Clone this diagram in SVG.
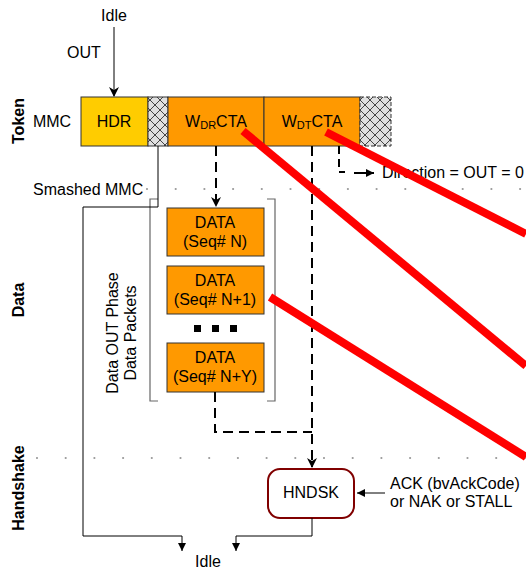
<svg xmlns="http://www.w3.org/2000/svg" width="526" height="572" viewBox="0 0 526 572">
<style>
text{font-family:"Liberation Sans",Arial,sans-serif;font-size:16px;fill:#000}
.c{text-anchor:middle}
.b{font-weight:bold}
.box{stroke:#333;stroke-width:1}
.ln{fill:none;stroke:#000;stroke-width:1}
.ds{fill:none;stroke:#000;stroke-width:2;stroke-dasharray:10,6}
.dot{fill:none;stroke:#999;stroke-width:2.2;stroke-linecap:round;stroke-dasharray:0,28.7}
.red{stroke:#ff0000;stroke-width:8}
</style>
<defs>
<pattern id="hatch" width="10" height="10" patternUnits="userSpaceOnUse">
<rect width="10" height="10" fill="#e0e0e0"/>
<path d="M0,0L10,10M10,0L0,10" stroke="#333" stroke-width="0.9"/>
</pattern>
<marker id="ah" markerWidth="10" markerHeight="10" refX="9" refY="5" orient="auto" markerUnits="userSpaceOnUse">
<path d="M0,0L10,5L0,10L3,5z" fill="#000"/>
</marker>
<marker id="as" markerWidth="8" markerHeight="8" refX="8" refY="4" orient="auto" markerUnits="userSpaceOnUse">
<path d="M0,0L8,4L0,8z" fill="#000"/>
</marker>
</defs>

<g id="labels">
<text class="b c" transform="translate(24,121) rotate(-90)">Token</text>
<text class="b c" transform="translate(24,300) rotate(-90)">Data</text>
<text class="b c" transform="translate(24,488) rotate(-90)">Handshake</text>
<text x="114" y="21" class="c">Idle</text>
<text x="84" y="58" class="c">OUT</text>
<text x="52" y="127" class="c">MMC</text>
<text x="33" y="195">Smashed MMC</text>
<text x="208" y="567" class="c">Idle</text>
<text class="c" transform="translate(118,333) rotate(-90)">Data OUT Phase</text>
<text class="c" transform="translate(136,333) rotate(-90)">Data Packets</text>
<text x="382" y="178">Direction = OUT = 0</text>
<text x="390" y="489">ACK (bvAckCode)</text>
<text x="390" y="507">or NAK or STALL</text>
</g>

<g id="dots">
<line class="dot" x1="147" y1="189" x2="526" y2="189"/>
<line class="dot" x1="37" y1="458" x2="526" y2="458"/>
</g>

<g id="hdr">
<rect x="81" y="97" width="67" height="49" fill="#ffcc00" class="box"/>
<text x="114" y="127" class="c">HDR</text>
</g>
<g id="hatch1">
<rect x="148" y="97" width="20" height="49" fill="url(#hatch)" class="box"/>
</g>
<g id="wdrcta">
<rect x="168" y="97" width="96" height="49" fill="#ff9900" class="box"/>
<text x="216" y="127" class="c">W<tspan font-size="11" dy="2">DR</tspan><tspan dy="-2">CTA</tspan></text>
</g>
<g id="wdtcta">
<rect x="264" y="97" width="96" height="49" fill="#ff9900" class="box"/>
<text x="312" y="127" class="c">W<tspan font-size="11" dy="2">DT</tspan><tspan dy="-2">CTA</tspan></text>
</g>
<g id="hatch2">
<rect x="360" y="97" width="31" height="49" fill="url(#hatch)" stroke="#333" stroke-width="1" stroke-dasharray="4,2"/>
</g>

<g id="data1">
<rect x="167" y="208" width="97" height="48" fill="#ff9900" class="box"/>
<text x="215" y="228" class="c">DATA</text>
<text x="215" y="247" class="c">(Seq# N)</text>
</g>
<g id="data2">
<rect x="167" y="266" width="97" height="48" fill="#ff9900" class="box"/>
<text x="215" y="286" class="c">DATA</text>
<text x="215" y="305" class="c">(Seq# N+1)</text>
</g>
<g id="ellipsis">
<rect x="194" y="325" width="7" height="7" fill="#000"/>
<rect x="212" y="325" width="7" height="7" fill="#000"/>
<rect x="230" y="325" width="7" height="7" fill="#000"/>
</g>
<g id="data3">
<rect x="167" y="343" width="97" height="49" fill="#ff9900" class="box"/>
<text x="215" y="363" class="c">DATA</text>
<text x="215" y="382" class="c">(Seq# N+Y)</text>
</g>
<g id="bracket">
<path d="M158,199H150V401H158" fill="none" stroke="#666" stroke-width="1.2"/>
<path d="M267,199H275V401H267" fill="none" stroke="#666" stroke-width="1.2"/>
</g>

<g id="hndsk">
<rect x="268" y="469" width="86" height="49" rx="12" fill="#fff" stroke="#800000" stroke-width="2"/>
<text x="311" y="498" class="c">HNDSK</text>
</g>

<g id="connectors">
<line x1="114" y1="27" x2="114" y2="96" class="ln" marker-end="url(#ah)"/>
<path d="M158,146V207H83V536H182V551" class="ln" marker-end="url(#as)"/>
<path d="M312,518V536H236V551" class="ln" marker-end="url(#as)"/>
<path d="M216,146V206" class="ds" marker-end="url(#ah)"/>
<path d="M312,146V467" class="ds" marker-end="url(#ah)"/>
<path d="M215,392V432H312" class="ds"/>
<path d="M339,146V172H345" fill="none" stroke="#000" stroke-width="2" stroke-dasharray="8,5"/>
<line x1="354" y1="173" x2="374" y2="173" stroke="#000" stroke-width="2" marker-end="url(#as)"/>
<line x1="385" y1="493" x2="357" y2="493" class="ln" marker-end="url(#as)"/>
</g>

<g id="strikes">
<line class="red" x1="243" y1="131" x2="526" y2="366"/>
<line class="red" x1="326" y1="132" x2="526" y2="234"/>
<line class="red" x1="270" y1="297" x2="526" y2="457"/>
</g>
</svg>
